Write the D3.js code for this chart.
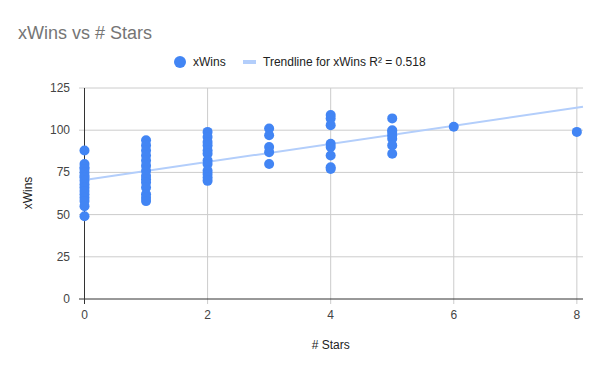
<!DOCTYPE html>
<html>
<head>
<meta charset="utf-8">
<script src="https://cdn.jsdelivr.net/npm/d3@7"></script>
<style>
  body { margin: 0; background: #fff; }
  text { font-family: "Liberation Sans", Arial, sans-serif; }
</style>
</head>
<body>
<div id="chart"></div>
<script>
// data: one array per # Stars value
let stars0 = [88, 80, 78, 77, 75, 73, 72, 70, 68, 66, 64, 62, 60, 58, 55, 49];
let stars1 = [94, 91, 88, 85, 82, 79, 76, 73, 71, 69, 66, 62, 60, 58];
let stars2 = [99, 96, 93, 91, 88, 86, 82, 80, 76, 74, 72, 70];
let stars3 = [101, 97, 90, 87, 80];
let stars4 = [109, 107, 103, 92, 90, 85, 78, 77];
let stars5 = [107, 100, 99, 97, 95, 91, 86];
let stars6 = [102];
let stars8 = [99];

let xTicks = [0, 2, 4, 6, 8];
let yTicks = [0, 25, 50, 75, 100, 125];

let data = [];
[[0, stars0], [1, stars1], [2, stars2], [3, stars3],
 [4, stars4], [5, stars5], [6, stars6], [8, stars8]].forEach(function(p) {
  p[1].forEach(function(v) { data.push({stars: p[0], wins: v}); });
});

let width = 600, height = 371;

let svg = d3.select("#chart").append("svg")
    .attr("width", width)
    .attr("height", height);

let x = d3.scaleLinear().domain([0, 8.1]).range([84.5, 583]);
let y = d3.scaleLinear().domain([0, 125]).range([299, 88]);

// title
svg.append("text")
    .attr("x", 18).attr("y", 39)
    .style("font-size", "18px")
    .style("fill", "#757575")
    .text("xWins vs # Stars");

// gridlines
svg.append("g").selectAll("line")
    .data(yTicks.filter(function(d) { return d > 0; }))
  .enter().append("line")
    .attr("x1", 79).attr("x2", 583)
    .attr("y1", function(d) { return y(d); })
    .attr("y2", function(d) { return y(d); })
    .attr("stroke", "#cccccc");

svg.append("g").selectAll("line")
    .data(xTicks.filter(function(d) { return d > 0; }))
  .enter().append("line")
    .attr("x1", function(d) { return x(d); })
    .attr("x2", function(d) { return x(d); })
    .attr("y1", 88).attr("y2", 304)
    .attr("stroke", "#cccccc");

// baselines
svg.append("line")
    .attr("x1", 79).attr("x2", 583)
    .attr("y1", y(0)).attr("y2", y(0))
    .attr("stroke", "#333333");
svg.append("line")
    .attr("x1", x(0)).attr("x2", x(0))
    .attr("y1", 88).attr("y2", 304)
    .attr("stroke", "#333333");

// tick labels
svg.append("g").selectAll("text")
    .data(yTicks)
  .enter().append("text")
    .attr("x", 70)
    .attr("y", function(d) { return y(d) + 4; })
    .attr("text-anchor", "end")
    .style("font-size", "12px")
    .style("fill", "#444")
    .text(function(d) { return d; });

svg.append("g").selectAll("text")
    .data(xTicks)
  .enter().append("text")
    .attr("x", function(d) { return x(d); })
    .attr("y", 319)
    .attr("text-anchor", "middle")
    .style("font-size", "12px")
    .style("fill", "#444")
    .text(function(d) { return d; });

// axis titles
svg.append("text")
    .attr("x", x(4)).attr("y", 349)
    .attr("text-anchor", "middle")
    .style("font-size", "12px")
    .style("fill", "#222")
    .text("# Stars");

svg.append("text")
    .attr("transform", "translate(32, 193) rotate(-90)")
    .attr("text-anchor", "middle")
    .style("font-size", "12px")
    .style("fill", "#222")
    .text("xWins");

// linear trendline from the points
let mx = d3.mean(data, function(d) { return d.stars; }),
    my = d3.mean(data, function(d) { return d.wins; });
let slope = d3.sum(data, function(d) { return (d.stars - mx) * (d.wins - my); }) /
            d3.sum(data, function(d) { return (d.stars - mx) * (d.stars - mx); });
let icpt = my - slope * mx;

svg.append("line")
    .attr("x1", x(0)).attr("y1", y(icpt))
    .attr("x2", x(8.1)).attr("y2", y(icpt + slope * 8.1))
    .attr("stroke", "#b3cefb")
    .attr("stroke-width", 2);

// points
svg.append("g").selectAll("circle")
    .data(data)
  .enter().append("circle")
    .attr("cx", function(d) { return x(d.stars); })
    .attr("cy", function(d) { return y(d.wins); })
    .attr("r", 5)
    .attr("fill", "#4285f4");

// legend
let legend = svg.append("g");
legend.append("circle")
    .attr("cx", 180).attr("cy", 62).attr("r", 6)
    .attr("fill", "#4285f4");
legend.append("text")
    .attr("x", 193).attr("y", 66)
    .style("font-size", "12px")
    .style("fill", "#222")
    .text("xWins");
legend.append("line")
    .attr("x1", 243).attr("x2", 256)
    .attr("y1", 62).attr("y2", 62)
    .attr("stroke", "#b3cefb")
    .attr("stroke-width", 4);
legend.append("text")
    .attr("x", 263).attr("y", 66)
    .style("font-size", "12px")
    .style("fill", "#222")
    .text("Trendline for xWins R² = 0.518");
</script>
</body>
</html>
